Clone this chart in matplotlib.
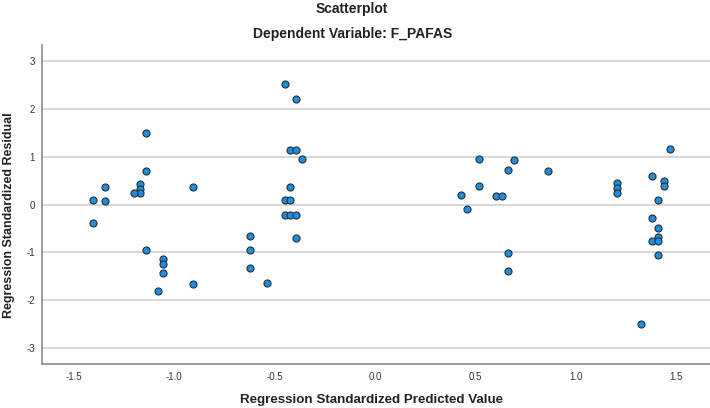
import matplotlib
matplotlib.use("Agg")
import matplotlib.pyplot as plt

plt.rcParams['font.family'] = ['Liberation Sans', 'DejaVu Sans']

# standardized predicted values (x) and standardized residuals (y)
pred = [-1.403, -1.403, -1.343, -1.343,
        -1.139, -1.139, -1.169, -1.169, -1.169, -1.200,
        -0.907, -1.139, -1.053, -1.053, -1.053, -1.081, -0.907,
        -0.623, -0.623, -0.623, -0.536,
        -0.449, -0.391, -0.421, -0.391, -0.362, -0.421, -0.449, -0.421,
        -0.449, -0.421, -0.391, -0.391,
        0.516, 0.690, 0.660, 0.862, 0.516, 0.428, 0.602, 0.632, 0.458,
        0.662, 0.662,
        1.466, 1.380, 1.438, 1.438, 1.206, 1.206, 1.206, 1.408, 1.380,
        1.408, 1.408, 1.380, 1.408, 1.408, 1.322]
resid = [0.09, -0.39, 0.37, 0.07,
         1.49, 0.71, 0.43, 0.33, 0.23, 0.24,
         0.37, -0.94, -1.14, -1.24, -1.44, -1.81, -1.65,
         -0.65, -0.94, -1.33, -1.63,
         2.51, 2.20, 1.14, 1.14, 0.94, 0.37, 0.09, 0.09,
         -0.21, -0.21, -0.21, -0.69,
         0.96, 0.92, 0.73, 0.69, 0.38, 0.20, 0.17, 0.17, -0.09,
         -1.01, -1.39,
         1.16, 0.59, 0.49, 0.39, 0.44, 0.34, 0.24, 0.10, -0.28,
         -0.48, -0.67, -0.76, -0.76, -1.06, -2.49]

x_ticks = [-1.5, -1.0, -0.5, 0.0, 0.5, 1.0, 1.5]
y_ticks = [-3, -2, -1, 0, 1, 2, 3]

fig = plt.figure(figsize=(7.1, 4.08), dpi=100)
ax = fig.add_axes([0.0592, 0.1078, 0.9408, 0.7819])

ax.scatter(pred, resid, s=26, facecolor='#1a8fe3', edgecolor='#2e2e2e',
           linewidth=0.8, zorder=3)

ax.set_xlim(-1.657, 1.667)
ax.set_ylim(-3.33, 3.33)
ax.set_xticks(x_ticks)
ax.set_xticklabels([f"{v:.1f}" for v in x_ticks])
ax.set_yticks(y_ticks)
ax.set_yticklabels([str(v) for v in y_ticks])
ax.tick_params(labelsize=7, colors='#333333', length=0)
ax.tick_params(axis='x', pad=6)
ax.tick_params(axis='y', pad=5)

ax.grid(axis='y', color='#d6d6d6', linewidth=1.3, zorder=0)
for side in ['top', 'right']:
    ax.spines[side].set_visible(False)
for side in ['left', 'bottom']:
    ax.spines[side].set_color('#8c8c8c')
    ax.spines[side].set_linewidth(1.2)

fig.text(0.496, 0.978, "Scatterplot", ha='center', va='center',
         fontsize=10, fontweight='bold', color='#222222')
fig.text(0.496, 0.916, "Dependent Variable: F_PAFAS", ha='center', va='center',
         fontsize=10, fontweight='bold', color='#222222')
fig.text(0.523, 0.02, "Regression Standardized Predicted Value", ha='center',
         va='center', fontsize=9.6, fontweight='bold', color='#222222')
fig.text(0.013, 0.473, "Regression Standardized Residual", ha='center',
         va='center', rotation=90, fontsize=9.0, fontweight='bold',
         color='#222222')

fig.savefig("out.png", dpi=100)
